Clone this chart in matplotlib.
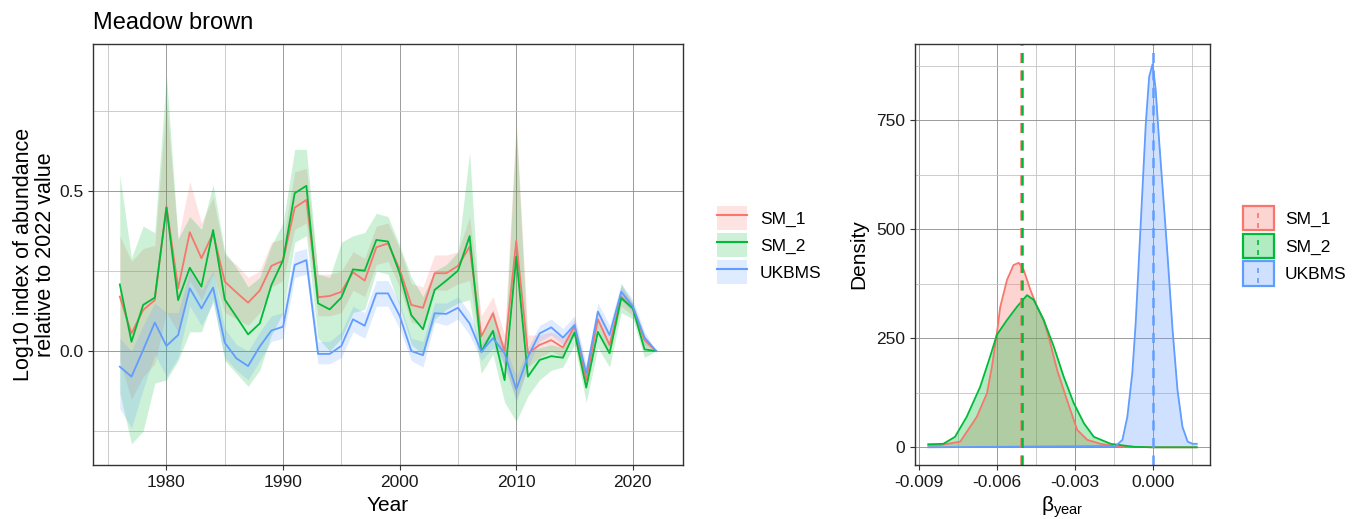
import numpy as np
import matplotlib
matplotlib.use("Agg")
import matplotlib.pyplot as plt
from matplotlib.patches import Patch, Rectangle
from matplotlib.lines import Line2D
from matplotlib.legend_handler import HandlerBase
from matplotlib.ticker import MultipleLocator, FixedLocator

plt.rcParams["font.family"] = ["Liberation Sans", "DejaVu Sans"]
plt.rcParams["mathtext.fontset"] = "custom"
plt.rcParams["mathtext.rm"] = "Liberation Sans"

# ---- left panel: yearly index ----
years = np.arange(1976, 2023)
series = ["SM_1", "SM_2", "UKBMS"]
colours = ["#F8766D", "#00BA38", "#619CFF"]

sm1 = [0.170, 0.055, 0.128, 0.159, 0.453, 0.196, 0.371, 0.290, 0.368, 0.217,
       0.183, 0.151, 0.189, 0.266, 0.282, 0.448, 0.472, 0.168, 0.172, 0.185,
       0.246, 0.220, 0.324, 0.336, 0.255, 0.144, 0.135, 0.243, 0.243, 0.266,
       0.326, 0.045, 0.118, -0.002, 0.344, -0.007, 0.019, 0.034, 0.011, 0.078,
       -0.091, 0.099, 0.019, 0.170, 0.133, 0.034, 0.0]
sm1_lo = [-0.03, -0.15, -0.08, -0.04, 0.12, 0.06, 0.22, 0.16, 0.24, 0.12,
          0.10, 0.08, 0.12, 0.20, 0.22, 0.38, 0.40, 0.11, 0.11, 0.12,
          0.19, 0.17, 0.27, 0.28, 0.20, 0.09, 0.08, 0.19, 0.19, 0.21,
          0.22, -0.01, 0.06, -0.05, -0.15, -0.05, -0.02, 0.00, -0.02, 0.05,
          -0.12, 0.07, -0.01, 0.14, 0.11, 0.01, 0.0]
sm1_hi = [0.36, 0.28, 0.32, 0.33, 0.78, 0.35, 0.53, 0.40, 0.48, 0.30,
          0.27, 0.23, 0.25, 0.34, 0.35, 0.56, 0.57, 0.24, 0.24, 0.25,
          0.31, 0.29, 0.39, 0.40, 0.32, 0.21, 0.20, 0.30, 0.30, 0.31,
          0.42, 0.11, 0.17, 0.05, 0.72, 0.05, 0.05, 0.06, 0.04, 0.10,
          -0.06, 0.13, 0.05, 0.20, 0.15, 0.05, 0.0]

sm2 = [0.208, 0.029, 0.144, 0.167, 0.448, 0.159, 0.260, 0.201, 0.378, 0.161,
       0.107, 0.052, 0.086, 0.206, 0.284, 0.493, 0.516, 0.149, 0.130, 0.167,
       0.255, 0.251, 0.347, 0.342, 0.243, 0.112, 0.068, 0.191, 0.220, 0.251,
       0.359, -0.002, 0.063, -0.091, 0.295, -0.080, -0.028, -0.016, -0.021, 0.058,
       -0.114, 0.060, -0.007, 0.165, 0.133, 0.005, 0.0]
sm2_lo = [-0.13, -0.29, -0.25, -0.10, -0.09, -0.03, 0.06, 0.06, 0.16, -0.03,
          -0.07, -0.11, -0.06, 0.05, 0.12, 0.34, 0.36, 0.04, 0.00, 0.04,
          0.12, 0.13, 0.25, 0.24, 0.14, 0.02, -0.01, 0.10, 0.13, 0.15,
          0.16, -0.07, -0.01, -0.16, -0.22, -0.14, -0.09, -0.06, -0.05, 0.02,
          -0.16, 0.01, -0.05, 0.12, 0.10, -0.02, 0.0]
sm2_hi = [0.55, 0.29, 0.39, 0.37, 0.86, 0.35, 0.42, 0.38, 0.52, 0.31,
          0.26, 0.20, 0.23, 0.33, 0.40, 0.63, 0.63, 0.24, 0.23, 0.34,
          0.36, 0.37, 0.43, 0.42, 0.33, 0.23, 0.17, 0.25, 0.27, 0.31,
          0.62, 0.04, 0.13, 0.00, 0.70, 0.00, 0.01, 0.02, 0.01, 0.09,
          -0.09, 0.09, 0.02, 0.21, 0.15, 0.03, 0.0]

ukbms = [-0.049, -0.080, 0.003, 0.089, 0.016, 0.050, 0.196, 0.133, 0.198, 0.026,
         -0.023, -0.047, 0.014, 0.064, 0.076, 0.269, 0.284, -0.009, -0.009, 0.016,
         0.099, 0.079, 0.180, 0.180, 0.110, 0.000, -0.013, 0.118, 0.116, 0.135,
         0.086, -0.002, 0.040, -0.007, -0.120, -0.018, 0.055, 0.074, 0.042, 0.081,
         -0.070, 0.123, 0.050, 0.185, 0.139, 0.042, 0.0]
ukbms_lo = [-0.18, -0.24, -0.12, -0.01, -0.08, -0.02, 0.14, 0.08, 0.15, -0.02,
            -0.06, -0.09, -0.03, 0.03, 0.04, 0.23, 0.24, -0.04, -0.04, -0.02,
            0.06, 0.04, 0.14, 0.14, 0.07, -0.03, -0.05, 0.09, 0.08, 0.10,
            0.05, -0.03, 0.01, -0.04, -0.16, -0.05, 0.03, 0.05, 0.02, 0.05,
            -0.10, 0.09, 0.02, 0.16, 0.12, 0.02, 0.0]
ukbms_hi = [0.04, 0.00, 0.08, 0.15, 0.12, 0.12, 0.25, 0.19, 0.25, 0.07,
            0.02, 0.00, 0.06, 0.11, 0.12, 0.31, 0.32, 0.03, 0.03, 0.06,
            0.14, 0.12, 0.22, 0.22, 0.15, 0.04, 0.03, 0.15, 0.15, 0.17,
            0.12, 0.02, 0.07, 0.02, -0.08, 0.01, 0.08, 0.10, 0.07, 0.11,
            -0.04, 0.15, 0.08, 0.21, 0.16, 0.06, 0.0]

# ---- right panel: posterior density of beta_year ----
dens_sm1_x = [-0.00865, -0.0083, -0.00742, -0.00678, -0.00639, -0.0062, -0.00601,
              -0.00588, -0.00562, -0.00537, -0.00517, -0.00498, -0.00472, -0.00446,
              -0.00421, -0.00402, -0.00369, -0.00331, -0.00292, -0.00253, -0.00202,
              -0.00137, 0.0, 0.00168]
dens_sm1_y = [4, 4, 13, 70, 124, 185, 261, 322, 384, 418, 423, 407, 361, 322,
              292, 254, 177, 108, 40, 17, 8, 2, 0, 0]
dens_sm2_x = [-0.00865, -0.00807, -0.00762, -0.00717, -0.00665, -0.00627, -0.00601,
              -0.00562, -0.00524, -0.00485, -0.00459, -0.00421, -0.00382, -0.00344,
              -0.00305, -0.00266, -0.00228, -0.00163, -0.00073, 0.0, 0.00168]
dens_sm2_y = [7, 8, 24, 70, 139, 208, 258, 292, 322, 349, 338, 292, 231, 162,
              101, 55, 24, 8, 1, 0, 0]
dens_uk_x = [-0.00865, -0.00144, -0.00118, -0.00099, -0.0008, -0.00067, -0.00054,
             -0.00041, -0.00028, -0.00015, -0.00002, 0.0001, 0.00023, 0.00042,
             0.00056, 0.00075, 0.00094, 0.00113, 0.00133, 0.00152, 0.00168]
dens_uk_y = [0, 3, 17, 70, 170, 284, 437, 590, 743, 850, 879, 820, 705, 552,
             437, 269, 131, 47, 13, 8, 8]
beta_means = [-0.00508, -0.00503, 0.0000]

fig = plt.figure(figsize=(13.6, 5.19), dpi=100)
axL = fig.add_axes([93 / 1360, 54 / 519, 590 / 1360, 421 / 519])
axR = fig.add_axes([915 / 1360, 54 / 519, 295 / 1360, 421 / 519])

means = [sm1, sm2, ukbms]
lows = [sm1_lo, sm2_lo, ukbms_lo]
highs = [sm1_hi, sm2_hi, ukbms_hi]
for m, lo, hi, c in zip(means, lows, highs, colours):
    axL.fill_between(years, lo, hi, color=c, alpha=0.2, lw=0)
for m, c in zip(means, colours):
    axL.plot(years, m, color=c, lw=1.3)

dx = [dens_sm1_x, dens_sm2_x, dens_uk_x]
dy = [dens_sm1_y, dens_sm2_y, dens_uk_y]
for x, y, c in zip(dx, dy, colours):
    axR.fill_between(x, 0, y, color=c, alpha=0.3, lw=0)
    axR.plot(x, y, color=c, lw=1.3)
for b, c in zip(beta_means, colours):
    axR.axvline(b, color=c, lw=1.8, ls=(0, (4, 3)))


def style(ax):
    for s in ax.spines.values():
        s.set_color("#333333")
        s.set_linewidth(1.0)
    ax.grid(which="major", color="#8c8c8c", lw=0.6)
    ax.grid(which="minor", color="#c4c4c4", lw=0.6)
    ax.set_axisbelow(True)
    ax.tick_params(which="major", direction="out", length=3.6, width=0.8,
                   color="#333333", labelsize=12.5, labelcolor="#1a1a1a", pad=3.5)
    ax.tick_params(axis="x", which="major", pad=3.3)
    ax.tick_params(which="minor", length=0)


axL.set_xlim(1973.7, 2024.3)
axL.set_ylim(-0.356, 0.959)
axL.xaxis.set_major_locator(MultipleLocator(10))
axL.xaxis.set_minor_locator(MultipleLocator(5))
axL.yaxis.set_major_locator(FixedLocator([0.0, 0.5]))
axL.yaxis.set_minor_locator(FixedLocator([-0.25, 0.25, 0.75]))
axL.set_yticklabels(["0.0", "0.5"])
style(axL)
axL.set_xlabel("Year", fontsize=15, labelpad=4.5)
axL.set_ylabel("Log10 index of abundance\nrelative to 2022 value", fontsize=15.5,
               multialignment="center", labelpad=2, linespacing=1.1)
axL.set_title("Meadow brown", loc="left", fontsize=17, pad=11)

axR.set_xlim(-0.00916, 0.00219)
axR.set_ylim(-40.6, 925)
axR.xaxis.set_major_locator(FixedLocator([-0.009, -0.006, -0.003, 0.0]))
axR.set_xticklabels(["-0.009", "-0.006", "-0.003", "0.000"])
axR.xaxis.set_minor_locator(FixedLocator([-0.0075, -0.0045, -0.0015, 0.0015]))
axR.yaxis.set_major_locator(FixedLocator([0, 250, 500, 750]))
axR.yaxis.set_minor_locator(FixedLocator([125, 375, 625, 875]))
style(axR)
axR.set_xlabel(r"β$_{\mathrm{year}}$", fontsize=15, labelpad=3)
axR.set_ylabel("Density", fontsize=15, labelpad=6)

# legends
hL = [(Patch(facecolor=c, alpha=0.2, lw=0), Line2D([], [], color=c, lw=1.5))
      for c in colours]
fig.legend(hL, series, loc="upper left", bbox_to_anchor=(717 / 1360, 1 - 206 / 519),
           frameon=False, fontsize=12.5, handlelength=1.73, handleheight=1.73,
           labelspacing=0.19, handletextpad=0.75, borderpad=0, borderaxespad=0)


class DashKey(HandlerBase):
    def create_artists(self, legend, orig, xd, yd, w, h, fontsize, trans):
        c = orig.get_edgecolor()
        r = Rectangle((-xd, -yd), w, h, facecolor=orig.get_facecolor(),
                      edgecolor=c, lw=1.6, transform=trans)
        ln = Line2D([-xd + w / 2] * 2, [-yd + 2, -yd + h - 2], color=c,
                    lw=1.2, ls=(0, (3, 3)), transform=trans)
        return [r, ln]


hR = [Patch(facecolor=(*matplotlib.colors.to_rgb(c), 0.3), edgecolor=c) for c in colours]
fig.legend(hR, series, loc="upper left", bbox_to_anchor=(1243 / 1360, 1 - 206 / 519),
           frameon=False, fontsize=12.5, handlelength=1.78, handleheight=1.78,
           labelspacing=0.19, handletextpad=0.63, borderpad=0, borderaxespad=0,
           handler_map={Patch: DashKey()})

fig.savefig("out.png", dpi=100)
